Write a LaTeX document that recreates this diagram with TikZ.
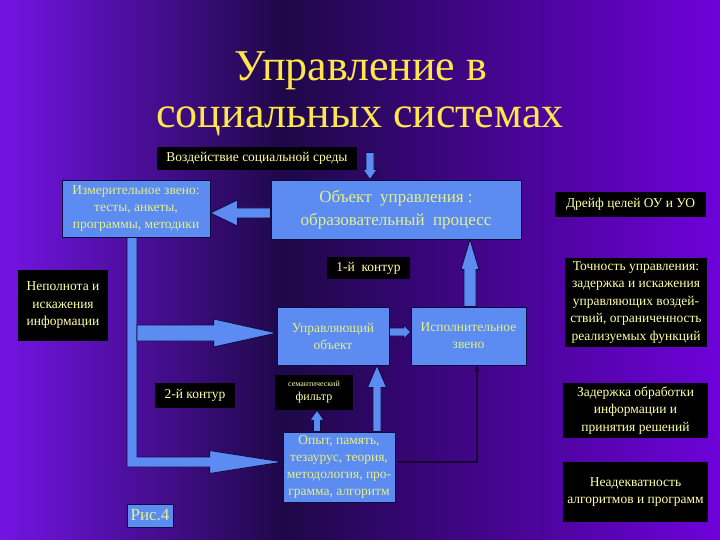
\documentclass[tikz,border=0pt]{standalone}
\usepackage{fontspec}
\setmainfont{Liberation Serif}
\usetikzlibrary{calc,arrows.meta}
\definecolor{bgedge}{HTML}{7414E4}
\definecolor{bgdark}{HTML}{1E0848}
\definecolor{bgright}{HTML}{6E02DA}
\definecolor{boxblue}{HTML}{5C8CF2}
\definecolor{boxline}{HTML}{0C0C40}
\definecolor{boxtext}{HTML}{E4F08A}
\definecolor{labtext}{HTML}{FFFFA6}
\definecolor{titletext}{HTML}{FFE64A}
\definecolor{thinline}{HTML}{1A0030}
\tikzset{
  bluebox/.style={draw=boxline, line width=0.8pt, fill=boxblue, text=boxtext, inner sep=0pt, align=center, font=\fontsize{13.5}{17}\selectfont},
  blackbox/.style={fill=black, text=labtext, inner sep=0pt, align=center, font=\fontsize{13.5}{17.5}\selectfont},
  arrowbody/.style={fill=boxblue, draw=boxline, line width=0.8pt, line join=miter},
  titlestyle/.style={text=titletext, font=\fontsize{44}{50}\selectfont, inner sep=0pt},
}
% #1 start, #2 end, #3 body half width, #4 head half width, #5 head length
\newcommand\blockarrow[5]{%
  \coordinate (ba-s) at (#1);
  \coordinate (ba-e) at (#2);
  \coordinate (ba-b) at ($(ba-e)!#5!(ba-s)$);
  \draw[arrowbody] ($(ba-s)!#3!90:(ba-e)$) -- ($(ba-b)!#3!90:(ba-e)$) -- ($(ba-b)!#4!90:(ba-e)$)
    -- (ba-e) -- ($(ba-b)!#4!-90:(ba-e)$) -- ($(ba-b)!#3!-90:(ba-e)$) -- ($(ba-s)!#3!-90:(ba-e)$) -- cycle;
}
\begin{document}
\begin{tikzpicture}[x=1pt,y=-1pt]
\useasboundingbox (0,0) rectangle (720,540);
% background
\fill[left color=bgedge, right color=bgdark] (0,0) rectangle (285,540);
\fill[left color=bgdark, right color=bgright] (284.5,0) rectangle (720,540);
% title
\node[titlestyle] (t1) at (361,71) {Управление в};
\node[titlestyle] (t2) at (360,121) {социальных системах};
% boxes
\node[blackbox, minimum width=200, minimum height=23] (env) at (257,158.5) {Воздействие социальной среды};
\node[bluebox, minimum width=148, minimum height=57] (meas) at (136,208.5) {Измерительное звено:\\ тесты, анкеты,\\ программы, методики};
\node[bluebox, minimum width=250, minimum height=59, font=\fontsize{17}{23}\selectfont] (obj) at (396,209.5) {Объект~ управления :\\ образовательный~ процесс};
\node[blackbox, minimum width=151, minimum height=25] (drift) at (630.5,204.5) {Дрейф целей ОУ и УО};
\node[blackbox, minimum width=90, minimum height=71] (incomp) at (63,305.5) {Неполнота и\\ искажения\\ информации};
\node[blackbox, minimum width=83, minimum height=22] (k1) at (368.5,268) {1-й~ контур};
\node[bluebox, minimum width=112, minimum height=58] (upr) at (333,336) {Управляющий\\ объект};
\node[bluebox, minimum width=115, minimum height=58] (isp) at (468.5,336) {Исполнительное\\ звено};
\node[blackbox, minimum width=142, minimum height=89] (prec) at (636,302.5) {Точность управления:\\ задержка и искажения\\ управляющих воздей-\\ ствий, ограниченность\\ реализуемых функций};
\node[blackbox, minimum width=78, minimum height=35, font=\fontsize{12}{14}\selectfont] (sem) at (314,392.5) {{\fontsize{8}{9}\selectfont семантический}\\ фильтр};
\node[blackbox, minimum width=80, minimum height=25] (k2) at (195,395.5) {2-й контур};
\node[bluebox, minimum width=112, minimum height=70] (opyt) at (339,467) {Опыт, память,\\ тезаурус, теория,\\ методология, про-\\ грамма, алгоритм};
\node[blackbox, minimum width=145, minimum height=55] (delay) at (635.5,410.5) {Задержка обработки\\ информации и\\ принятия решений};
\node[blackbox, minimum width=145, minimum height=60] (inad) at (635.5,492) {Неадекватность\\ алгоритмов и программ};
\node[bluebox, minimum width=46, minimum height=23, font=\fontsize{17}{20}\selectfont] (fig) at (150,515.5) {Рис.4};
% L-shaped feedback bar from measuring link
\coordinate (barTop) at ($(meas.south)+(-4,0)$);
\coordinate (barCorner) at (barTop |- opyt.west);
\coordinate (barC) at ($(barCorner)+(0,-5)$);
\coordinate (tipE) at ($(opyt.west)+(0,-5)$);
\draw[arrowbody] ($(barTop)+(-5,0)$) -- ($(barC)+(-5,5)$) -- ($(tipE)+(-73,5)$) -- ($(tipE)+(-73,11.5)$)
  -- (tipE) -- ($(tipE)+(-73,-11.5)$) -- ($(tipE)+(-73,-5)$) -- ($(barC)+(5,-5)$) -- ($(barTop)+(5,0)$) -- cycle;
% arrows
\coordinate (midS) at ($(barTop |- upr.west)+(5,-3)$);
\blockarrow{midS}{$(upr.west)+(0,-3)$}{8pt}{14pt}{63pt}
\blockarrow{$(obj.west)+(0,3.5)$}{$(meas.east |- obj.west)+(0,3.5)$}{5pt}{13pt}{27pt}
\coordinate (envArr) at ($(obj.north)+(-26,-27)$);
\blockarrow{envArr}{$(obj.north)+(-26,0)$}{4pt}{7pt}{10pt}
\blockarrow{$(upr.east)+(0,-4)$}{$(isp.west)+(0,-4)$}{4pt}{7pt}{7pt}
\blockarrow{$(isp.north)+(1.5,0)$}{$(isp.north |- obj.south)+(1.5,0)$}{6pt}{9pt}{30pt}
\blockarrow{$(opyt.north)+(38,0)$}{$(upr.south)+(44,0)$}{4pt}{9.5pt}{22pt}
\blockarrow{$(opyt.north)+(-22,0)$}{$(sem.south)+(3,0)$}{3.5pt}{7pt}{10pt}
% thin connector
\draw[thinline, line width=1.2pt, -{Stealth[length=6pt,width=5pt]}] ($(opyt.east)+(3,-5)$) -| ($(isp.south)+(8.5,0)$);
\end{tikzpicture}
\end{document}
